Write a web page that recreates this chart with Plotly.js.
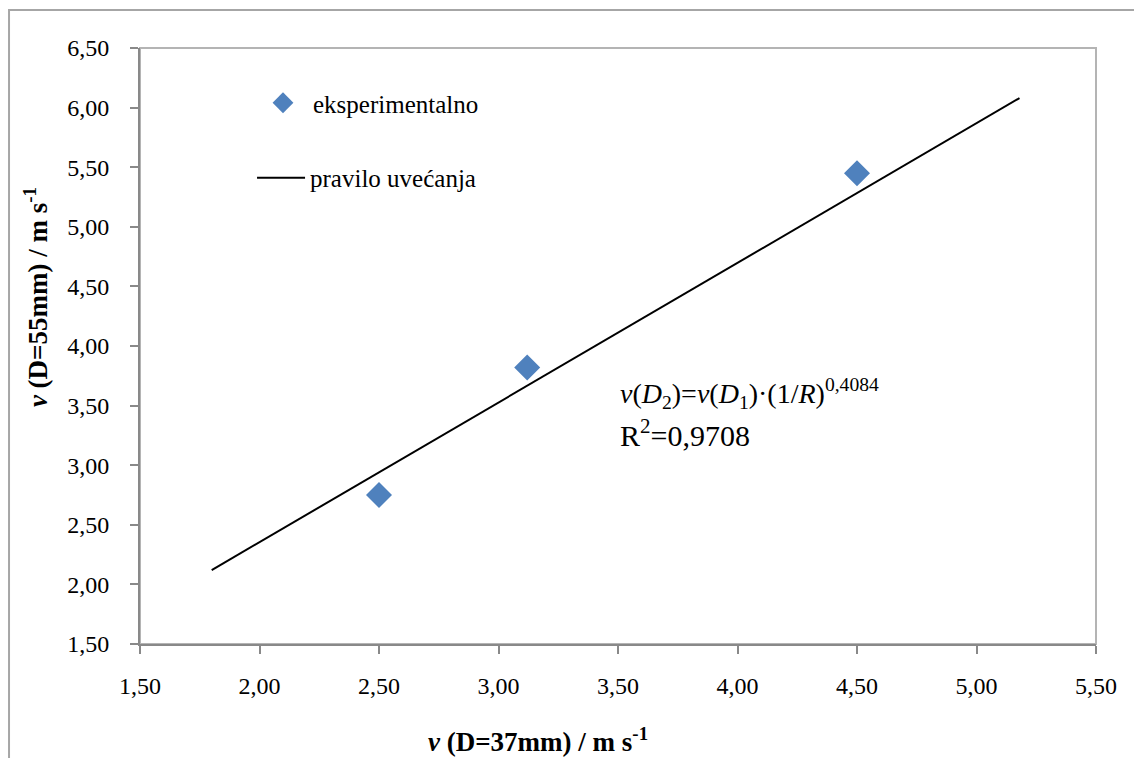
<!DOCTYPE html>
<html>
<head>
<meta charset="utf-8">
<script src="https://cdn.plot.ly/plotly-3.0.1.min.js"></script>
<style>
  html, body { margin: 0; padding: 0; background: #fff; }
  #chart { width: 1134px; height: 758px; }
</style>
</head>
<body>
<div id="chart"></div>
<script>
// Experimental points: v(D=37mm) vs v(D=55mm)
const expX = [2.50, 3.12, 4.50];
const expY = [2.75, 3.82, 5.45];
// Scale-up rule line (two end points)
const ruleX = [1.80, 5.18];
const ruleY = [2.12, 6.08];
const expName = 'eksperimentalno';
const ruleName = 'pravilo uvećanja';
const xTickVals = [1.5, 2.0, 2.5, 3.0, 3.5, 4.0, 4.5, 5.0, 5.5];
const yTickVals = [1.5, 2.0, 2.5, 3.0, 3.5, 4.0, 4.5, 5.0, 5.5, 6.0, 6.5];
const xTitle = '<b><i>v</i> (D=37mm) / m s<sup>-1</sup></b>';
const yTitle = '<b><i>v</i> (D=55mm) / m s<sup>-1</sup></b>';
const eqText = '<i>v</i>(<i>D</i><sub>2</sub>)=<i>v</i>(<i>D</i><sub>1</sub>)·(1/<i>R</i>)<sup>0,4084</sup>';
const r2Text = 'R<sup>2</sup>=0,9708';

const FONT = '"Liberation Serif", "Times New Roman", serif';

const traces = [
  {
    x: expX, y: expY, type: 'scatter', mode: 'markers', name: expName,
    marker: { symbol: 'diamond', size: 20, color: '#4f81bd', line: { width: 0 } },
    legend: 'legend'
  },
  {
    x: ruleX, y: ruleY, type: 'scatter', mode: 'lines', name: ruleName,
    line: { color: '#000000', width: 2 },
    legend: 'legend2'
  }
];

const layout = {
  width: 1134, height: 758,
  margin: { l: 140, r: 38, t: 48, b: 114 },
  paper_bgcolor: '#ffffff', plot_bgcolor: '#ffffff',
  separators: ', ',
  font: { family: FONT, color: '#000000', size: 24 },
  showlegend: true,
  legend: {
    x: 0.1182, y: 0.9077, xanchor: 'left', yanchor: 'middle',
    bgcolor: 'rgba(0,0,0,0)', font: { family: FONT, size: 25 }, itemwidth: 50
  },
  legend2: {
    x: 0.1172, y: 0.7819, xanchor: 'left', yanchor: 'middle',
    bgcolor: 'rgba(0,0,0,0)', font: { family: FONT, size: 25 }, itemwidth: 48
  },
  xaxis: {
    range: [1.5, 5.5], tickvals: xTickVals, tickformat: '.2f',
    showgrid: false, zeroline: false,
    showline: true, linecolor: '#898989', linewidth: 2,
    ticks: 'outside', ticklen: 8, tickwidth: 2, tickcolor: '#898989',
    ticklabelstandoff: 11,
    tickfont: { family: FONT, size: 24 }
  },
  yaxis: {
    range: [1.5, 6.5], tickvals: yTickVals, tickformat: '.2f',
    showgrid: false, zeroline: false,
    showline: true, linecolor: '#898989', linewidth: 2,
    ticks: 'outside', ticklen: 8, tickwidth: 2, tickcolor: '#898989',
    ticklabelstandoff: 16,
    tickfont: { family: FONT, size: 24 }
  },
  shapes: [
    { type: 'rect', xref: 'paper', yref: 'paper', x0: 0, x1: 1, y0: 0, y1: 1,
      line: { color: '#b4b4b4', width: 2 }, layer: 'below' },
    { type: 'rect', xref: 'paper', yref: 'paper', x0: -0.137, x1: 1.2, y0: -0.4, y1: 1.0638,
      line: { color: '#a6a6a6', width: 2 }, layer: 'below' }
  ],
  annotations: [
    { xref: 'paper', yref: 'paper', x: 0.4163, y: -0.161, xanchor: 'center', yanchor: 'middle',
      showarrow: false, text: xTitle, font: { family: FONT, size: 27 } },
    { xref: 'paper', yref: 'paper', x: -0.1088, y: 0.582, xanchor: 'center', yanchor: 'middle',
      showarrow: false, textangle: -90, text: yTitle, font: { family: FONT, size: 27 } },
    { xref: 'x', yref: 'y', x: 3.50, y: 3.785, xanchor: 'left', yanchor: 'top',
      showarrow: false, align: 'left', text: eqText,
      font: { family: FONT, size: 28 } },
    { xref: 'x', yref: 'y', x: 3.50, y: 3.45, xanchor: 'left', yanchor: 'top',
      showarrow: false, align: 'left', text: r2Text,
      font: { family: FONT, size: 30 } }
  ]
};

Plotly.newPlot('chart', traces, layout, { displayModeBar: false, staticPlot: true });
</script>
</body>
</html>
